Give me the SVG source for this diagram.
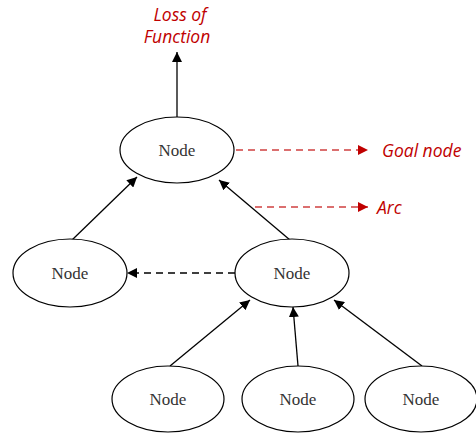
<svg xmlns="http://www.w3.org/2000/svg" width="476" height="433" viewBox="0 0 476 433">
<defs>
<marker id="ah" viewBox="0 0 10 10" refX="10" refY="5" markerWidth="10" markerHeight="10" markerUnits="userSpaceOnUse" orient="auto"><path d="M0,0 L10,5 L0,10 z" fill="#000"/></marker>
<marker id="ahr" viewBox="0 0 10 10" refX="10" refY="5" markerWidth="10" markerHeight="10" markerUnits="userSpaceOnUse" orient="auto"><path d="M0,0 L10,5 L0,10 z" fill="#c00000"/></marker>
</defs>
<style>
.n ellipse{fill:#fff;stroke:#000;stroke-width:1.2}
.n text{font-family:"Liberation Serif",serif;font-size:17px;fill:#333;text-anchor:middle}
.e{stroke:#000;stroke-width:1.3;fill:none;marker-end:url(#ah)}
.d{stroke-dasharray:7 5}
.r{stroke:#d04040;stroke-width:1.3;fill:none;stroke-dasharray:7 5;marker-end:url(#ahr)}
.lbl{font-family:"Open Sans","DejaVu Sans",sans-serif;font-style:italic;font-size:17.5px;fill:#c00000}
</style>
<g id="connectors">
<line class="e" x1="177" y1="117" x2="177" y2="52"/>
<line class="e" x1="72" y1="240" x2="137" y2="177"/>
<line class="e" x1="290" y1="240" x2="219" y2="180"/>
<line class="e d" x1="235" y1="273" x2="127" y2="273"/>
<line class="e" x1="170" y1="366" x2="250" y2="300"/>
<line class="e" x1="298" y1="366" x2="293" y2="307"/>
<line class="e" x1="422" y1="366" x2="334" y2="300"/>
<line class="r" x1="236" y1="150" x2="368" y2="150"/>
<line class="r" x1="255" y1="207" x2="368" y2="207"/>
</g>
<g id="n-top" class="n"><ellipse cx="177" cy="150" rx="57" ry="33"/><text x="177" y="156">Node</text></g>
<g id="n-left" class="n"><ellipse cx="70" cy="273" rx="57" ry="34"/><text x="70" y="279">Node</text></g>
<g id="n-mid" class="n"><ellipse cx="292" cy="273" rx="57" ry="34"/><text x="292" y="279">Node</text></g>
<g id="n-b1" class="n"><ellipse cx="168" cy="399" rx="56" ry="33"/><text x="168" y="405">Node</text></g>
<g id="n-b2" class="n"><ellipse cx="298" cy="399" rx="56" ry="33"/><text x="298" y="405">Node</text></g>
<g id="n-b3" class="n"><ellipse cx="421" cy="399" rx="56" ry="33"/><text x="421" y="405">Node</text></g>
<g id="labels">
<text class="lbl" x="180" y="21" text-anchor="middle">Loss of</text>
<text class="lbl" x="177" y="43" text-anchor="middle">Function</text>
<text class="lbl" x="382" y="157">Goal node</text>
<text class="lbl" x="377" y="214">Arc</text>
</g>
</svg>
